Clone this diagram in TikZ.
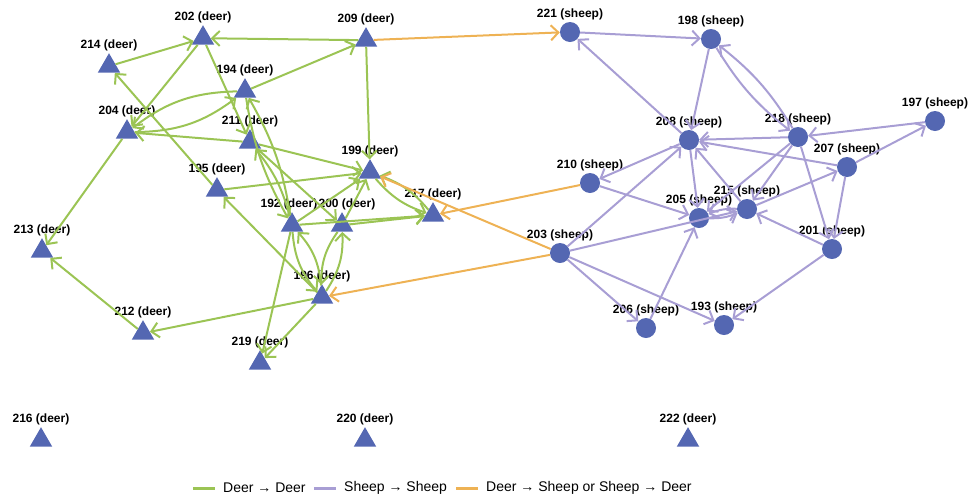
\documentclass[tikz,border=0pt]{standalone}
\usepackage{fontspec}
\setmainfont{Liberation Sans}
\usetikzlibrary{shapes.geometric,arrows.meta}
\definecolor{nodeblue}{RGB}{84,103,178}
\definecolor{deergreen}{RGB}{155,196,84}
\definecolor{sheeppurple}{RGB}{168,158,212}
\definecolor{crossorange}{RGB}{238,178,84}
\begin{document}
\begin{tikzpicture}[x=1pt,y=-1pt,
  deer/.style={regular polygon,regular polygon sides=3,fill=nodeblue,minimum size=26pt,inner sep=0pt},
  sheep/.style={circle,fill=nodeblue,minimum size=20pt,inner sep=0pt},
  lbl/.style={font=\fontsize{12}{14}\selectfont\bfseries,inner sep=0pt},
  tip/.style={-{Straight Barb[length=7.5pt,width=15pt]}},
  dd/.style={draw=deergreen,line width=2pt,tip},
  ss/.style={draw=sheeppurple,line width=2pt,tip},
  xx/.style={draw=crossorange,line width=2pt,tip},
  leg/.style={font=\fontsize{14}{16}\selectfont,anchor=west,inner sep=0pt},
  legline/.style={line width=3pt}
]
\useasboundingbox (0,0) rectangle (978,499);

% deer nodes (triangles): name / x / y / label x
\foreach \n/\x/\y/\lx in {202/203/35/203,214/109/63/109,209/366/37/366,194/245/88/245,
  204/127/129/127,211/250/139/250,199/370/169/370,195/217/187/217,192/292/222/289,
  200/342/222/347,217/433/212/433,213/42/248/42,196/322/294/322,212/143/330/143,
  219/260/360/260,216/41/437/41,220/365/437/365,222/688/437/688}{
  \node[deer] (d\n) at (\x,\y+3.2) {};
  \node[lbl] (ld\n) at (\lx,\y-18) {\n{} (deer)};
}
% sheep nodes (circles)
\foreach \n/\x/\y in {221/570/32,198/711/39,197/935/121,208/689/140,218/798/137,207/847/167,
  210/590/183,205/699/218,215/747/209,203/560/253,201/832/249,206/646/328,193/724/325}{
  \node[sheep] (s\n) at (\x,\y) {};
  \node[lbl] (ls\n) at (\x,\y-18) {\n{} (sheep)};
}

% deer -> deer
\draw[dd] (d214) -- (d202);
\draw[dd] (d209) -- (d202);
\draw[dd] (d202) -- (d204);
\draw[dd] (d202) -- (d211);
\draw[dd] (d194) -- (d209);
\draw[dd] (d209) -- (d199);
\draw[dd] (d204) to[bend right=18] (d194);
\draw[dd] (d194) to[bend right=18] (d204);
\draw[dd] (d211) -- (d204);
\draw[dd] (d195) -- (d214);
\draw[dd] (d204) -- (d213);
\draw[dd] (d212) -- (d213);
\draw[dd] (d196) -- (d212);
\draw[dd] (d195) -- (d199);
\draw[dd] (d211) -- (d199);
\draw[dd] (d196) -- (d195);
\draw[dd] (d192) to[bend right=12] (d211);
\draw[dd] (d192) to[bend right=10] (d194);
\draw[dd] (d194) to[bend right=10] (d192);
\draw[dd] (d211) -- (d200);
\draw[dd] (d192) -- (d199);
\draw[dd] (d200) -- (d199);
\draw[dd] (d192) -- (d217);
\draw[dd] (d200) -- (d217);
\draw[dd] (d199) to[bend right=15] (d217);
\draw[dd] (d217) to[bend right=15] (d199);
\draw[dd] (d196) to[bend right=18] (d192);
\draw[dd] (d192) to[bend right=18] (d196);
\draw[dd] (d196) to[bend right=18] (d200);
\draw[dd] (d200) to[bend right=18] (d196);
\draw[dd] (d192) -- (d219);
\draw[dd] (d196) -- (d219);

% sheep -> sheep
\draw[ss] (s221) -- (s198);
\draw[ss] (s208) -- (s221);
\draw[ss] (s198) -- (s208);
\draw[ss] (s218) to[bend right=10] (s198);
\draw[ss] (s198) to[bend right=10] (s218);
\draw[ss] (s197) -- (s218);
\draw[ss] (s218) -- (s208);
\draw[ss] (s207) -- (s197);
\draw[ss] (s207) -- (s208);
\draw[ss] (s208) -- (s210);
\draw[ss] (s210) -- (s205);
\draw[ss] (s203) -- (s208);
\draw[ss] (s203) -- (s215);
\draw[ss] (s206) -- (s205);
\draw[ss] (s203) -- (s206);
\draw[ss] (s203) -- (s193);
\draw[ss] (s201) -- (s193);
\draw[ss] (s201) -- (s215);
\draw[ss] (s207) -- (s201);
\draw[ss] (s218) -- (s201);
\draw[ss] (s215) -- (s207);
\draw[ss] (s218) -- (s215);
\draw[ss] (s218) -- (s205);
\draw[ss] (s215) -- (s208);
\draw[ss] (s208) -- (s205);
\draw[ss] (s205) to[bend right=12] (s215);
\draw[ss] (s215) to[bend right=12] (s205);

% cross-species
\draw[xx] (d209) -- (s221);
\draw[xx] (s203) -- (d199);
\draw[xx] (s210) -- (d217);
\draw[xx] (s203) -- (d196);

% legend
\coordinate (g1) at (193,488); \coordinate (g2) at (215,488);
\coordinate (p1) at (314,488); \coordinate (p2) at (336,488);
\coordinate (o1) at (456,488); \coordinate (o2) at (478,488);
\draw[legline,deergreen] (g1) -- (g2);
\draw[legline,sheeppurple] (p1) -- (p2);
\draw[legline,crossorange] (o1) -- (o2);
\node[leg] (t1) at (223,488) {Deer → Deer};
\node[leg] (t2) at (344,488) {Sheep → Sheep};
\node[leg] (t3) at (486,488) {Deer → Sheep or Sheep → Deer};
\end{tikzpicture}
\end{document}
